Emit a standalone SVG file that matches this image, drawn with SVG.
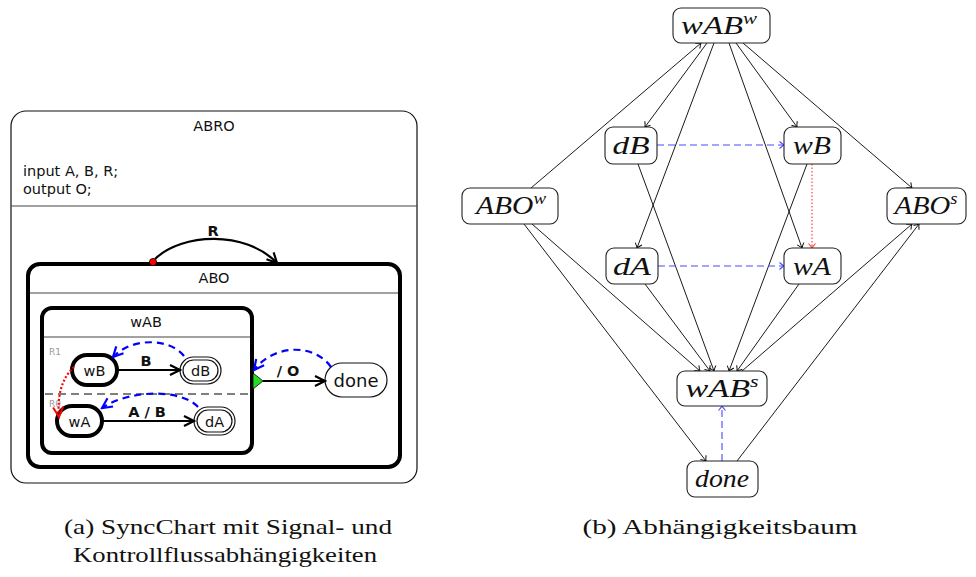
<svg xmlns="http://www.w3.org/2000/svg" width="976" height="577" viewBox="0 0 976 577">
<style>
.sans{font-family:"DejaVu Sans","Liberation Sans",sans-serif;fill:#111}
.t14{font-size:14.5px}
.lbl{font-size:14.5px;font-weight:bold}
.reg{font-size:9px;fill:#999}
.box{fill:#fff;stroke:#111;stroke-width:1.2}
.thick{fill:#fff;stroke:#000;stroke-width:4}
.sep{stroke:#444;stroke-width:1.2}
.tr{fill:none;stroke:#000;stroke-width:2.2}
.dep{fill:none;stroke:#0000ff;stroke-width:2.2;stroke-dasharray:7 5}
.ctl{fill:none;stroke:#ff0000;stroke-width:2.2;stroke-dasharray:2 2}
.gn{fill:#fff;stroke:#222;stroke-width:1.1}
.math{font-family:"Liberation Serif","DejaVu Serif",serif;font-style:italic;font-size:25px;fill:#111}
.sup{font-size:16px}
.e{stroke:#000;stroke-width:0.9;fill:none}
.eb{stroke:#4a4aff;stroke-width:1.1;stroke-dasharray:7 4;fill:none}
.er{stroke:#ff3030;stroke-width:1.1;stroke-dasharray:1.5 2;fill:none}
.cap{font-family:"Liberation Serif","DejaVu Serif",serif;font-size:21px;fill:#111}
</style>
<defs>
<marker id="ch" viewBox="-12 -7 14 14" markerWidth="14" markerHeight="14" refX="0" refY="0" orient="auto" markerUnits="userSpaceOnUse"><path d="M-10,-5 L0,0 L-10,5" fill="none" stroke="#000" stroke-width="2.2"/></marker>
<marker id="chb" viewBox="-12 -7 14 14" markerWidth="14" markerHeight="14" refX="0" refY="0" orient="auto" markerUnits="userSpaceOnUse"><path d="M-10,-5 L0,0 L-10,5" fill="none" stroke="#0000ff" stroke-width="2.2"/></marker>
<marker id="chr" viewBox="-12 -7 14 14" markerWidth="14" markerHeight="14" refX="0" refY="0" orient="auto" markerUnits="userSpaceOnUse"><path d="M-10,-5 L0,0 L-10,5" fill="none" stroke="#ff0000" stroke-width="2"/></marker>
<marker id="ta" viewBox="-6 -5 8 10" markerWidth="8" markerHeight="10" refX="0" refY="0" orient="auto" markerUnits="userSpaceOnUse"><path d="M-4.5,-3.5 Q-1.5,-0.8 0,0 Q-1.5,0.8 -4.5,3.5" fill="none" stroke="#000" stroke-width="0.9"/></marker>
<marker id="tab" viewBox="-6 -5 8 10" markerWidth="8" markerHeight="10" refX="0" refY="0" orient="auto" markerUnits="userSpaceOnUse"><path d="M-4.5,-3.5 Q-1.5,-0.8 0,0 Q-1.5,0.8 -4.5,3.5" fill="none" stroke="#4a4aff" stroke-width="1.1"/></marker>
<marker id="tar" viewBox="-6 -5 8 10" markerWidth="8" markerHeight="10" refX="0" refY="0" orient="auto" markerUnits="userSpaceOnUse"><path d="M-4.5,-3.5 Q-1.5,-0.8 0,0 Q-1.5,0.8 -4.5,3.5" fill="none" stroke="#ff3030" stroke-width="1.1"/></marker>
</defs>
<rect width="976" height="577" fill="#fff"/>

<!-- Left: SyncChart -->
<g id="ABRO">
<rect x="11" y="111" width="406" height="372" rx="15" class="box"/>
<text x="214" y="131" class="sans t14" text-anchor="middle">ABRO</text>
<text x="23" y="176" class="sans t14">input A, B, R;</text>
<text x="23" y="194" class="sans t14">output O;</text>
<line x1="11" y1="206" x2="417" y2="206" class="sep"/>
</g>
<g id="ABO">
<rect x="28" y="264" width="372" height="203" rx="12" class="thick"/>
<text x="214" y="283" class="sans t14" text-anchor="middle">ABO</text>
<line x1="30" y1="293" x2="398" y2="293" class="sep"/>
</g>
<g id="wAB">
<rect x="42" y="308" width="210" height="145" rx="10" class="thick"/>
<text x="146" y="327" class="sans t14" text-anchor="middle">wAB</text>
<line x1="44" y1="337" x2="250" y2="337" class="sep"/>
<line x1="45" y1="394" x2="250" y2="394" stroke="#555" stroke-width="1.5" stroke-dasharray="8 5"/>
<text x="49" y="355" class="sans reg">R1</text>
<text x="49" y="407" class="sans reg">R0</text>
</g>
<g id="wB">
<rect x="72" y="355" width="45" height="30" rx="15" class="thick"/>
<text x="94.5" y="376" class="sans t14" text-anchor="middle">wB</text>
</g>
<g id="dB">
<rect x="180" y="357" width="41" height="27" rx="13.5" class="box"/>
<rect x="183" y="360" width="35" height="21" rx="10.5" class="box"/>
<text x="200.5" y="376" class="sans t14" text-anchor="middle">dB</text>
</g>
<g id="wA">
<rect x="57" y="406" width="45" height="30" rx="15" class="thick"/>
<text x="79.5" y="427" class="sans t14" text-anchor="middle">wA</text>
</g>
<g id="dA">
<rect x="194" y="407" width="41" height="28" rx="14" class="box"/>
<rect x="197" y="410" width="35" height="22" rx="11" class="box"/>
<text x="214.5" y="427" class="sans t14" text-anchor="middle">dA</text>
</g>
<g id="done_state">
<rect x="325" y="363" width="62" height="34" rx="17" class="box"/>
<text x="356" y="387" class="sans" font-size="18" text-anchor="middle">done</text>
</g>
<g id="syncchart-connectors">
<path d="M155,259 C182,233 245,230 277,263" class="tr" marker-end="url(#ch)"/>
<circle cx="153" cy="262" r="3.6" fill="#ff0000" stroke="#000" stroke-width="0.8"/>
<text x="213" y="236" class="sans lbl" text-anchor="middle">R</text>
<line x1="117" y1="370" x2="180" y2="370" class="tr" marker-end="url(#ch)"/>
<text x="146" y="366" class="sans lbl" text-anchor="middle">B</text>
<line x1="102" y1="421" x2="194" y2="421" class="tr" marker-end="url(#ch)"/>
<text x="147" y="417" class="sans lbl" text-anchor="middle">A / B</text>
<polygon points="253,373 263,381 253,389" fill="#22dd22" stroke="#000" stroke-width="0.8"/>
<line x1="263" y1="381" x2="325" y2="381" class="tr" marker-end="url(#ch)"/>
<text x="288" y="376" class="sans lbl" text-anchor="middle">/ O</text>
<path d="M184,356 C170,338 132,337 113,357" class="dep" marker-end="url(#chb)"/>
<path d="M198,407 C182,389 130,389 102,408" class="dep" marker-end="url(#chb)"/>
<path d="M331,367 C315,344 275,343 254,370" class="dep" marker-end="url(#chb)"/>
<path d="M74,367 C62,378 57,395 59,417" class="ctl" marker-end="url(#chr)"/>
</g>

<!-- Right: dependency tree -->
<g id="g-connectors">
<line x1="531" y1="188" x2="701" y2="43" class="e" marker-end="url(#ta)"/>
<line x1="707" y1="43" x2="645" y2="127" class="e" marker-end="url(#ta)"/>
<line x1="714" y1="43" x2="637" y2="248" class="e" marker-end="url(#ta)"/>
<line x1="729" y1="43" x2="802" y2="248" class="e" marker-end="url(#ta)"/>
<line x1="736" y1="43" x2="797" y2="127" class="e" marker-end="url(#ta)"/>
<line x1="743" y1="43" x2="912" y2="188" class="e" marker-end="url(#ta)"/>
<line x1="638" y1="164" x2="714" y2="371" class="e" marker-end="url(#ta)"/>
<line x1="807" y1="164" x2="729" y2="371" class="e" marker-end="url(#ta)"/>
<line x1="645" y1="284" x2="710" y2="371" class="e" marker-end="url(#ta)"/>
<line x1="799" y1="284" x2="737" y2="371" class="e" marker-end="url(#ta)"/>
<line x1="532" y1="224" x2="700" y2="371" class="e" marker-end="url(#ta)"/>
<line x1="524" y1="224" x2="706" y2="461" class="e" marker-end="url(#ta)"/>
<line x1="742" y1="371" x2="912" y2="224" class="e" marker-end="url(#ta)"/>
<line x1="737" y1="461" x2="919" y2="224" class="e" marker-end="url(#ta)"/>
<line x1="657" y1="145" x2="784" y2="145" class="eb" marker-end="url(#tab)"/>
<line x1="658" y1="266" x2="784" y2="266" class="eb" marker-end="url(#tab)"/>
<line x1="722" y1="461" x2="722" y2="406" class="eb" marker-end="url(#tab)"/>
<line x1="812" y1="164" x2="812" y2="248" class="er" marker-end="url(#tar)"/>
</g>
<g id="n-wABw">
<rect x="673" y="8" width="97" height="35" rx="8" class="gn"/>
<text x="719" y="34" class="math" text-anchor="middle" textLength="76" lengthAdjust="spacingAndGlyphs">wAB<tspan class="sup" dy="-10">w</tspan></text>
</g>
<g id="n-dB">
<rect x="605" y="127" width="52" height="37" rx="8" class="gn"/>
<text x="631" y="154" class="math" text-anchor="middle" textLength="37" lengthAdjust="spacingAndGlyphs">dB</text>
</g>
<g id="n-wB">
<rect x="784" y="127" width="57" height="37" rx="8" class="gn"/>
<text x="812" y="154" class="math" text-anchor="middle" textLength="38" lengthAdjust="spacingAndGlyphs">wB</text>
</g>
<g id="n-ABOw">
<rect x="462" y="188" width="96" height="36" rx="8" class="gn"/>
<text x="511" y="214" class="math" text-anchor="middle" textLength="70" lengthAdjust="spacingAndGlyphs">ABO<tspan class="sup" dy="-10">w</tspan></text>
</g>
<g id="n-ABOs">
<rect x="887" y="188" width="79" height="36" rx="8" class="gn"/>
<text x="926" y="214" class="math" text-anchor="middle" textLength="63" lengthAdjust="spacingAndGlyphs">ABO<tspan class="sup" dy="-10">s</tspan></text>
</g>
<g id="n-dA">
<rect x="606" y="248" width="52" height="36" rx="8" class="gn"/>
<text x="632" y="275" class="math" text-anchor="middle" textLength="38" lengthAdjust="spacingAndGlyphs">dA</text>
</g>
<g id="n-wA">
<rect x="784" y="248" width="57" height="36" rx="8" class="gn"/>
<text x="812" y="275" class="math" text-anchor="middle" textLength="38" lengthAdjust="spacingAndGlyphs">wA</text>
</g>
<g id="n-wABs">
<rect x="677" y="371" width="90" height="35" rx="8" class="gn"/>
<text x="722" y="397" class="math" text-anchor="middle" textLength="73" lengthAdjust="spacingAndGlyphs">wAB<tspan class="sup" dy="-10">s</tspan></text>
</g>
<g id="n-done">
<rect x="687" y="461" width="71" height="36" rx="8" class="gn"/>
<text x="722" y="487" class="math" text-anchor="middle" textLength="54" lengthAdjust="spacingAndGlyphs">done</text>
</g>

<!-- Captions -->
<text x="228" y="534" class="cap" text-anchor="middle" textLength="328" lengthAdjust="spacingAndGlyphs">(a) SyncChart mit Signal- und</text>
<text x="225" y="562" class="cap" text-anchor="middle" textLength="304" lengthAdjust="spacingAndGlyphs">Kontrollflussabhängigkeiten</text>
<text x="720" y="534" class="cap" text-anchor="middle" textLength="275" lengthAdjust="spacingAndGlyphs">(b) Abhängigkeitsbaum</text>
</svg>
